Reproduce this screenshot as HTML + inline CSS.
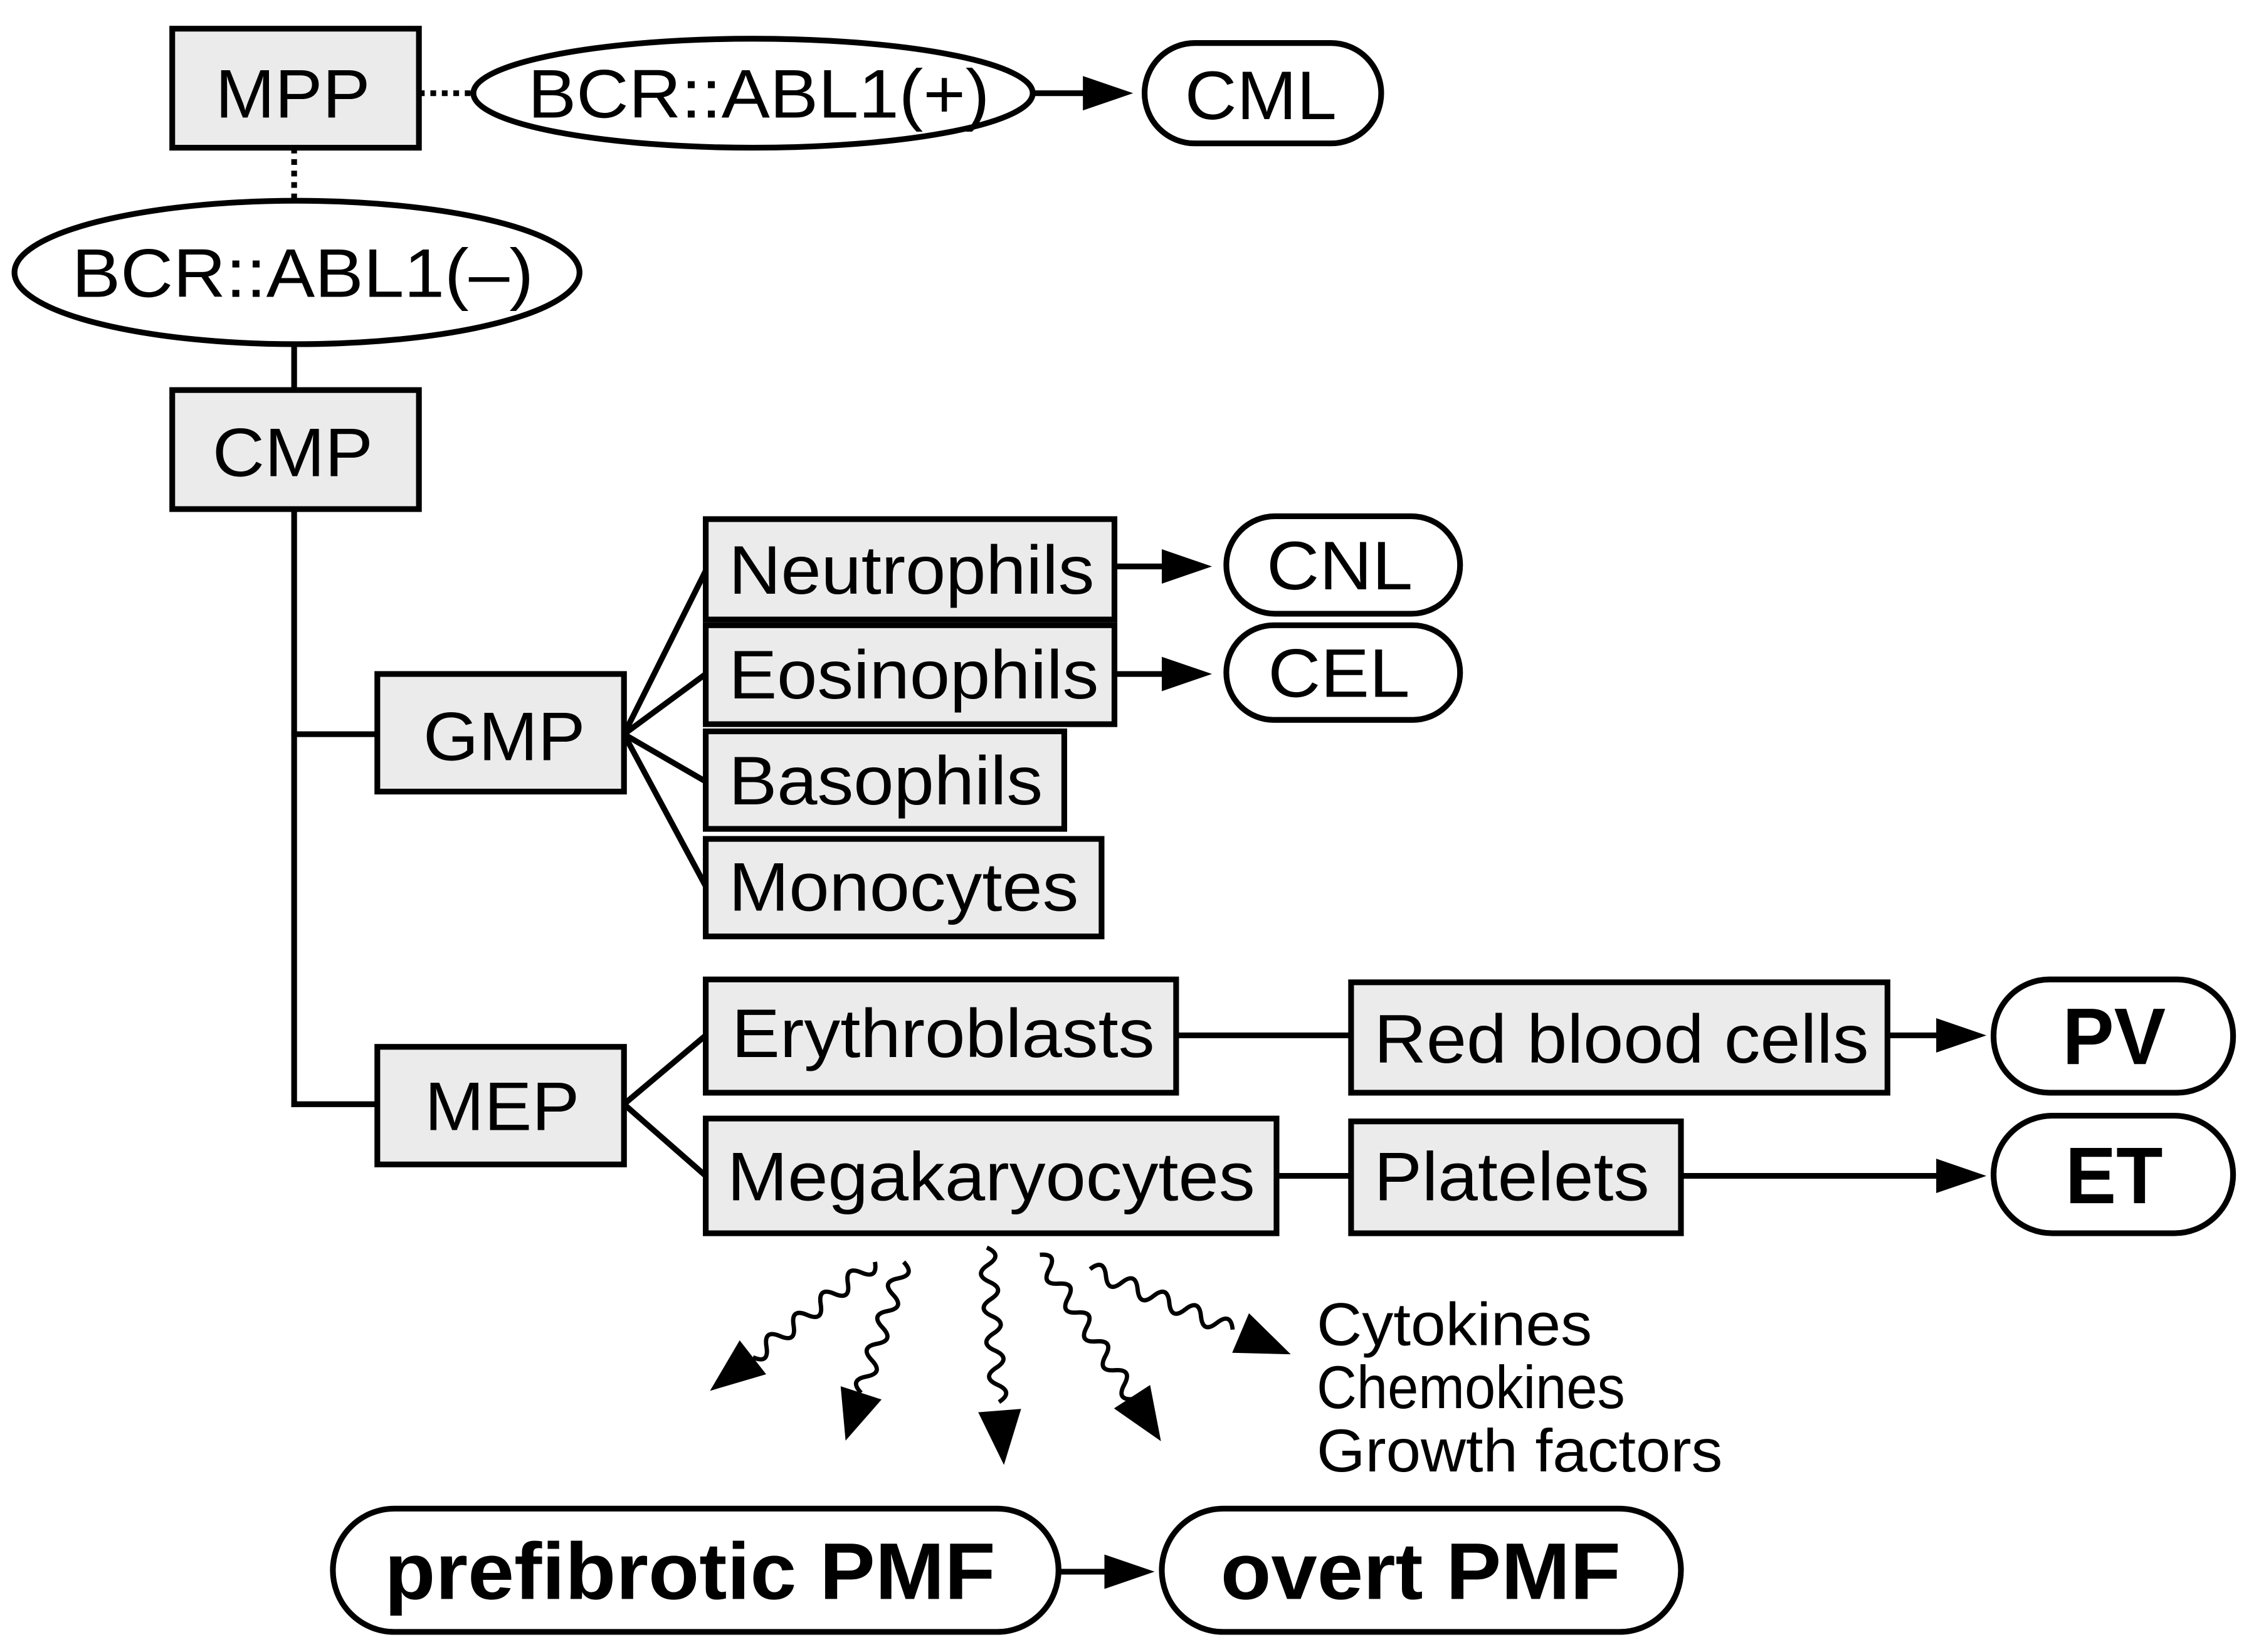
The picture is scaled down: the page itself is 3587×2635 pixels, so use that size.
<!DOCTYPE html>
<html><head><meta charset="utf-8"><style>
html,body{margin:0;padding:0;background:#fff;}
svg{display:block;}
text{font-family:"Liberation Sans",Arial,sans-serif;fill:#000;}
</style></head><body>
<svg width="3587" height="2635" viewBox="0 0 1568 1152" xmlns="http://www.w3.org/2000/svg">
<g stroke="#000" stroke-width="4" fill="none">
  <line x1="292" y1="65" x2="330" y2="65" stroke-dasharray="4,4"/>
  <line x1="205" y1="103" x2="205" y2="140" stroke-dasharray="4,4"/>
  <line x1="205" y1="240" x2="205" y2="272"/>
  <line x1="205" y1="355" x2="205" y2="772"/>
  <line x1="203" y1="512" x2="263" y2="512"/>
  <line x1="203" y1="770" x2="263" y2="770"/>
  <line x1="435" y1="512" x2="492" y2="398"/>
  <line x1="435" y1="512" x2="492" y2="470"/>
  <line x1="435" y1="512" x2="492" y2="545"/>
  <line x1="435" y1="512" x2="492" y2="618"/>
  <line x1="435" y1="770" x2="492" y2="722"/>
  <line x1="435" y1="770" x2="492" y2="820"/>
  <line x1="820" y1="722" x2="942" y2="722"/>
  <line x1="890" y1="820" x2="942" y2="820"/>
  <line x1="720" y1="65" x2="760" y2="65"/>
  <line x1="777" y1="395" x2="815" y2="395"/>
  <line x1="777" y1="470" x2="815" y2="470"/>
  <line x1="1316" y1="722" x2="1355" y2="722"/>
  <line x1="1172" y1="820" x2="1355" y2="820"/>
  <line x1="738" y1="1096" x2="775" y2="1096"/>
</g>
<g fill="#000">
  <polygon points="755,53 790,65 755,77"/>
  <polygon points="810,383 845,395 810,407"/>
  <polygon points="810,458 845,470 810,482"/>
  <polygon points="1350,710 1385,722 1350,734"/>
  <polygon points="1350,808 1385,820 1350,832"/>
  <polygon points="770,1084 805,1096 770,1108"/>
</g>
<g stroke="#000" stroke-width="4" fill="#ebebeb">
  <rect x="120" y="20" width="172" height="83"/>
  <rect x="120" y="272" width="172" height="83"/>
  <rect x="263" y="470" width="172" height="82"/>
  <rect x="263" y="730" width="172" height="82"/>
  <rect x="492" y="362" width="285" height="70"/>
  <rect x="492" y="436" width="285" height="69"/>
  <rect x="492" y="510" width="250" height="68"/>
  <rect x="492" y="585" width="276" height="68"/>
  <rect x="492" y="683" width="328" height="79"/>
  <rect x="942" y="685" width="374" height="77"/>
  <rect x="492" y="780" width="398" height="80"/>
  <rect x="942" y="782" width="230" height="78"/>
</g>
<g stroke="#000" stroke-width="4" fill="#fff">
  <ellipse cx="525" cy="65" rx="195" ry="38"/>
  <ellipse cx="207" cy="190" rx="197" ry="50"/>
  <rect x="798" y="30" width="165" height="70" rx="35"/>
  <rect x="855" y="360" width="163" height="68" rx="34"/>
  <rect x="855" y="436" width="163" height="66" rx="33"/>
  <rect x="1390" y="683" width="167" height="79" rx="39"/>
  <rect x="1390" y="778" width="167" height="82" rx="41"/>
  <rect x="232" y="1052" width="506" height="86" rx="43"/>
  <rect x="810" y="1052" width="362" height="86" rx="43"/>
</g>
<g stroke="#000" stroke-width="3" fill="none">
  <g transform="translate(610,880) rotate(142)"><path d="M0 0 q6 -11 12 0 t12 0 t12 0 t12 0 t12 0 t12 0 t12 0 t12 0 t12 0"/><polygon points="108,-15 146,0 108,15" fill="#000" stroke="none"/></g>
  <g transform="translate(630,880) rotate(108)"><path d="M0 0 q6 -11 12 0 t12 0 t12 0 t12 0 t12 0 t12 0 t12 0 t12 0"/><polygon points="96,-15 131,0 96,15" fill="#000" stroke="none"/></g>
  <g transform="translate(688,870) rotate(85.5)"><path d="M0 0 q6 -11 12 0 t12 0 t12 0 t12 0 t12 0 t12 0 t12 0 t12 0 t12 0"/><polygon points="114,-15 152,0 114,15" fill="#000" stroke="none"/></g>
  <g transform="translate(725,875) rotate(57)"><path d="M0 0 q6 -11 12 0 t12 0 t12 0 t12 0 t12 0 t12 0 t12 0 t12 0 t12 0 t12 0"/><polygon points="118,-15 155,0 118,15" fill="#000" stroke="none"/></g>
  <g transform="translate(760,885) rotate(23)"><path d="M0 0 q6 -11 12 0 t12 0 t12 0 t12 0 t12 0 t12 0 t12 0 t12 0 t12 0"/><polygon points="114,-15 152,0 114,15" fill="#000" stroke="none"/></g>
</g>
<g font-size="48" lengthAdjust="spacingAndGlyphs">
  <text x="150" y="82" textLength="108" lengthAdjust="spacingAndGlyphs">MPP</text>
  <text x="148" y="332" textLength="112" lengthAdjust="spacingAndGlyphs">CMP</text>
  <text x="295" y="530" textLength="113" lengthAdjust="spacingAndGlyphs">GMP</text>
  <text x="296" y="788" textLength="108" lengthAdjust="spacingAndGlyphs">MEP</text>
  <text x="368" y="82" textLength="322" lengthAdjust="spacingAndGlyphs">BCR::ABL1(+)</text>
  <text x="50" y="207" textLength="322" lengthAdjust="spacingAndGlyphs">BCR::ABL1(–)</text>
  <text x="826" y="83" textLength="106" lengthAdjust="spacingAndGlyphs">CML</text>
  <text x="883" y="411" textLength="102" lengthAdjust="spacingAndGlyphs">CNL</text>
  <text x="884" y="486" textLength="99" lengthAdjust="spacingAndGlyphs">CEL</text>
  <text x="508" y="414" textLength="255" lengthAdjust="spacingAndGlyphs">Neutrophils</text>
  <text x="508" y="487" textLength="258" lengthAdjust="spacingAndGlyphs">Eosinophils</text>
  <text x="508" y="561" textLength="219" lengthAdjust="spacingAndGlyphs">Basophils</text>
  <text x="508" y="635" textLength="244" lengthAdjust="spacingAndGlyphs">Monocytes</text>
  <text x="510" y="737" textLength="295" lengthAdjust="spacingAndGlyphs">Erythroblasts</text>
  <text x="958" y="741" textLength="345" lengthAdjust="spacingAndGlyphs">Red blood cells</text>
  <text x="507" y="837" textLength="368" lengthAdjust="spacingAndGlyphs">Megakaryocytes</text>
  <text x="958" y="837" textLength="192" lengthAdjust="spacingAndGlyphs">Platelets</text>
  <text x="1438" y="742" font-weight="bold" font-size="56" textLength="72" lengthAdjust="spacingAndGlyphs">PV</text>
  <text x="1440" y="839" font-weight="bold" font-size="56" textLength="68" lengthAdjust="spacingAndGlyphs">ET</text>
  <text x="268" y="1115" font-weight="bold" font-size="56" textLength="426" lengthAdjust="spacingAndGlyphs">prefibrotic PMF</text>
  <text x="851" y="1115" font-weight="bold" font-size="56" textLength="279" lengthAdjust="spacingAndGlyphs">overt PMF</text>
</g>
<g font-size="42">
  <text x="918" y="938" textLength="192" lengthAdjust="spacingAndGlyphs">Cytokines</text>
  <text x="918" y="982" textLength="215" lengthAdjust="spacingAndGlyphs">Chemokines</text>
  <text x="918" y="1026" textLength="283" lengthAdjust="spacingAndGlyphs">Growth factors</text>
</g>
</svg>
</body></html>
